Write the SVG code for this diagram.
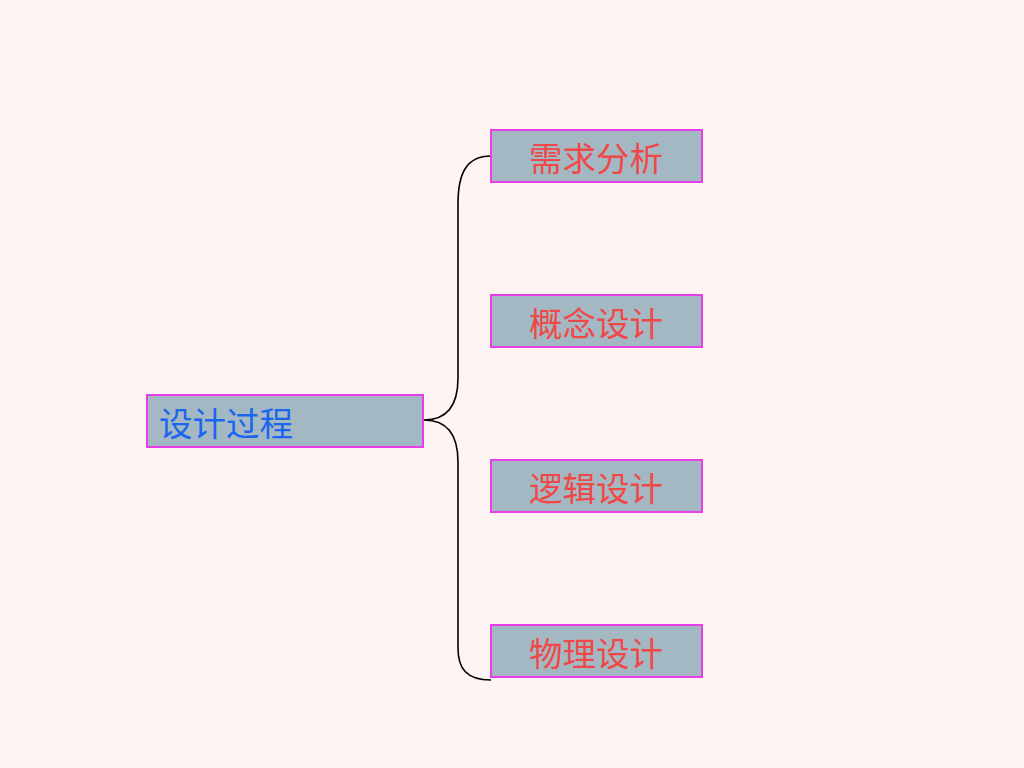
<svg xmlns="http://www.w3.org/2000/svg" width="1024" height="768" viewBox="0 0 1024 768">
<style>
.box{fill:#a3b8c2;stroke:#e83ee8;stroke-width:2}
.t{font-family:"Noto Sans CJK SC","Noto Sans",sans-serif;font-size:33.5px;font-weight:400}
.r{fill:#f04848;text-anchor:middle}
.b{fill:#1a66f0}
.c{fill:none;stroke:#000;stroke-width:1.6}
</style>
<rect width="1024" height="768" fill="#fff4f4"/>
<g id="connectors">
<path class="c" d="M491,156 C466,156 458,174 458,204 L458,378 C458,406 446,420 424,420 C446,420 458,434 458,462 L458,648 C458,668 466,680 491,680"/>
</g>
<g id="root"><rect class="box" x="147" y="395" width="276" height="52"/><text class="t b" x="159" y="436">设计过程</text></g>
<g id="n1"><rect class="box" x="491" y="130" width="211" height="52"/><text class="t r" x="596" y="171">需求分析</text></g>
<g id="n2"><rect class="box" x="491" y="295" width="211" height="52"/><text class="t r" x="596" y="336">概念设计</text></g>
<g id="n3"><rect class="box" x="491" y="460" width="211" height="52"/><text class="t r" x="596" y="501">逻辑设计</text></g>
<g id="n4"><rect class="box" x="491" y="625" width="211" height="52"/><text class="t r" x="596" y="666">物理设计</text></g>
</svg>
